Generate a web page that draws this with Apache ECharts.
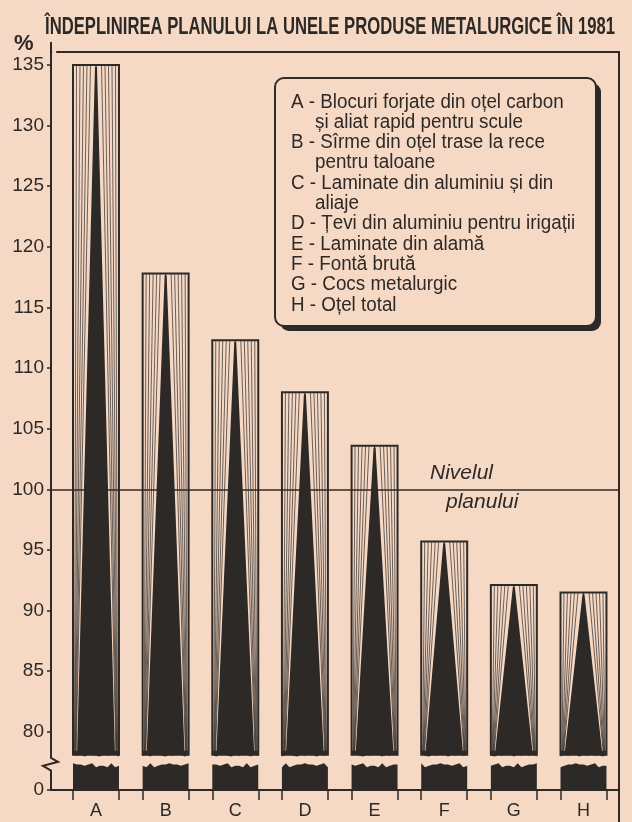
<!DOCTYPE html>
<html>
<head>
<meta charset="utf-8">
<script src="https://cdn.jsdelivr.net/npm/echarts@6/dist/echarts.min.js"></script>
<style>
html, body { margin: 0; padding: 0; background: #f6d9c5; }
#chart { width: 632px; height: 822px; }
</style>
</head>
<body>
<div id="chart"></div>
<script>
// data
var categories = ['A', 'B', 'C', 'D', 'E', 'F', 'G', 'H'];
var values = [135, 117.8, 112.3, 108.0, 103.6, 95.7, 92.1, 91.5];
var yTicks = [80, 85, 90, 95, 100, 105, 110, 115, 120, 125, 130, 135];
var planLevel = 100;
var legendItems = [
    ['A', 'Blocuri forjate din oțel carbon', 'și aliat rapid pentru scule'],
    ['B', 'Sîrme din oțel trase la rece', 'pentru taloane'],
    ['C', 'Laminate din aluminiu și din', 'aliaje'],
    ['D', 'Țevi din aluminiu pentru irigații'],
    ['E', 'Laminate din alamă'],
    ['F', 'Fontă brută'],
    ['G', 'Cocs metalurgic'],
    ['H', 'Oțel total']
];
var titleText = 'ÎNDEPLINIREA PLANULUI LA UNELE PRODUSE METALURGICE ÎN 1981';

// broken scale: the "0" sits just below the break
var zeroAt = 75.2, barBase = 78.1, stubTop = 77.3;
var yMax = 136.07, xMin = -0.646, xMax = 7.51, halfBar = 0.33;

var ink = '#2d2926';
var paper = '#f6d9c5';
var font = '"Liberation Sans", "Noto Sans", sans-serif';
var jag = [0, 2, 1, 3, 1, 0, 2, 3, 1, 2, 0, 1, 3, 1, 2];

// squeeze the title into the width it takes in the print
var titleFont = 'bold 23px ' + font;
var ctx = document.createElement('canvas').getContext('2d');
ctx.font = titleFont;
var titleScale = 570 / ctx.measureText(titleText).width;

var chart = echarts.init(document.getElementById('chart'));

var edgeTicks = [];
categories.forEach(function (c, i) { edgeTicks.push(i - halfBar, i + halfBar); });

function renderBar(params, api) {
    var i = api.value(0);
    var p = api.coord([i, api.value(1)]);
    var half = api.size([halfBar, 0])[0];
    var cx = p[0], top = p[1];
    var left = cx - half, right = cx + half;
    var base = api.coord([i, barBase])[1];
    var stub = api.coord([i, stubTop])[1];
    var zero = api.coord([i, zeroAt])[1];
    var kids = [];
    kids.push({ type: 'rect', shape: { x: left, y: top, width: right - left, height: base - top },
        style: { fill: paper } });
    var n = 5;
    for (var k = 1; k <= n; k++) {
        var f = k / (n + 1);
        kids.push({ type: 'line', shape: { x1: left + f * (half - 2), y1: top, x2: left + 1 + f * 2.5, y2: base },
            style: { stroke: ink, lineWidth: 0.7 } });
        kids.push({ type: 'line', shape: { x1: right - f * (half - 2), y1: top, x2: right - 1 - f * 2.5, y2: base },
            style: { stroke: ink, lineWidth: 0.7 } });
    }
    kids.push({ type: 'polygon', shape: { points: [[cx - 1, top + 2], [cx + 1, top + 2], [right - 4, base], [left + 4, base]] },
        style: { fill: ink } });
    kids.push({ type: 'line', shape: { x1: cx, y1: top, x2: cx, y2: top + 30 },
        style: { stroke: ink, lineWidth: 1.2 } });
    // wavy lower edge of the upper part
    var steps = 12;
    var pts = [[left, base - 4]];
    for (var s = 0; s <= steps; s++) {
        pts.push([left + (right - left) * s / steps, base + (jag[(s + i) % jag.length] - 1) * 0.8]);
    }
    pts.push([right, base - 4]);
    kids.push({ type: 'polygon', shape: { points: pts }, style: { fill: ink } });
    kids.push({ type: 'rect', shape: { x: left, y: top, width: right - left, height: base - top },
        style: { fill: null, stroke: ink, lineWidth: 2 } });
    // stub below the break
    var sp = [[left, zero]];
    for (var s2 = 0; s2 <= steps; s2++) {
        sp.push([left + (right - left) * s2 / steps, stub + (jag[(s2 * 2 + i) % jag.length] - 1) * 1.3]);
    }
    sp.push([right, zero]);
    kids.push({ type: 'polygon', shape: { points: sp }, style: { fill: ink } });
    return { type: 'group', children: kids };
}

function renderFrame(params, api) {
    var a = api.coord([xMin, barBase]);
    var b = api.coord([xMin, stubTop]);
    var r = api.coord([xMax, zeroAt]);
    var t = api.coord([xMin, yMax]);
    var x = a[0];
    return { type: 'group', children: [
        { type: 'line', shape: { x1: x, y1: t[1] - 10, x2: x, y2: t[1] }, style: { stroke: ink, lineWidth: 2 } },
        { type: 'rect', shape: { x: x + 1.2, y: t[1] - 2, width: 4, height: 4 }, style: { fill: paper } },
        { type: 'rect', shape: { x: x - 3, y: a[1] - 1, width: 6, height: b[1] - a[1] + 8 }, style: { fill: paper } },
        { type: 'polyline', shape: { points: [[x, a[1] - 1], [x, a[1] + 3], [x + 7, a[1] + 7], [x - 8, a[1] + 11], [x, b[1] + 6], [x, b[1] + 8]] },
          style: { stroke: ink, lineWidth: 2, fill: null } },
        { type: 'line', shape: { x1: r[0], y1: r[1], x2: r[0], y2: r[1] + 40 }, style: { stroke: ink, lineWidth: 2 } }
    ] };
}

var legendChildren = [
    { type: 'rect', shape: { x: 5, y: 5, width: 321, height: 248, r: 9 }, style: { fill: ink } },
    { type: 'rect', shape: { x: 0, y: 0, width: 321, height: 248, r: 9 }, style: { fill: paper, stroke: ink, lineWidth: 2 } }
];
var ly = 24;
legendItems.forEach(function (item) {
    legendChildren.push({ type: 'text', x: 16, y: ly, scaleX: 0.94,
        style: { text: item[0] + ' - ' + item[1], font: '20px ' + font, fill: ink, verticalAlign: 'middle' } });
    ly += 20.3;
    for (var j = 2; j < item.length; j++) {
        legendChildren.push({ type: 'text', x: 40, y: ly, scaleX: 0.94,
            style: { text: item[j], font: '20px ' + font, fill: ink, verticalAlign: 'middle' } });
        ly += 20.3;
    }
});

var option = {
    backgroundColor: paper,
    animation: false,
    grid: { left: 51, right: 13, top: 52, bottom: 32 },
    xAxis: [{
        type: 'value', min: xMin, max: xMax,
        splitLine: { show: false },
        axisLine: { show: true, onZero: false, lineStyle: { color: ink, width: 2 } },
        axisTick: { show: true, customValues: edgeTicks, length: 10, lineStyle: { color: ink, width: 1.5 } },
        axisLabel: {
            customValues: categories.map(function (c, i) { return i; }),
            formatter: function (v) { return categories[Math.round(v)]; },
            color: ink, fontSize: 18, fontFamily: font, margin: 12
        }
    }, {
        type: 'value', min: xMin, max: xMax, position: 'top',
        splitLine: { show: false }, axisTick: { show: false }, axisLabel: { show: false },
        axisLine: { show: true, onZero: false, lineStyle: { color: ink, width: 2 } }
    }],
    yAxis: [{
        type: 'value', min: zeroAt, max: yMax,
        splitLine: { show: false },
        axisLine: { show: true, onZero: false, lineStyle: { color: ink, width: 2 } },
        axisTick: { show: true, customValues: [zeroAt].concat(yTicks), length: 4, lineStyle: { color: ink, width: 1.5 } },
        axisLabel: {
            customValues: [zeroAt].concat(yTicks),
            formatter: function (v) { return v === zeroAt ? '0' : String(v); },
            color: ink, fontSize: 19, fontFamily: font, margin: 7
        }
    }, {
        type: 'value', min: zeroAt, max: yMax, position: 'right',
        splitLine: { show: false }, axisTick: { show: false }, axisLabel: { show: false },
        axisLine: { show: true, onZero: false, lineStyle: { color: ink, width: 2 } }
    }],
    graphic: [
        { type: 'text', x: 45, y: 28, scaleX: titleScale,
          style: { text: titleText, font: titleFont, fill: ink, verticalAlign: 'middle' } },
        { type: 'text', left: 14, top: 33, style: { text: '%', font: 'bold 22px ' + font, fill: ink } },
        { type: 'group', left: 274, top: 77, children: legendChildren },
        { type: 'text', x: 430, y: 463, style: { text: 'Nivelul', font: 'italic 21px ' + font, fill: ink } },
        { type: 'text', x: 446, y: 492, style: { text: 'planului', font: 'italic 21px ' + font, fill: ink } }
    ],
    series: [{
        type: 'custom',
        renderItem: renderBar,
        data: values.map(function (v, i) { return [i, v]; }),
        encode: { x: 0, y: 1 },
        clip: false,
        markLine: {
            silent: true, symbol: 'none', label: { show: false },
            lineStyle: { color: ink, width: 1.6, type: 'solid' },
            data: [{ yAxis: planLevel }]
        },
        z: 2
    }, {
        type: 'custom',
        renderItem: renderFrame,
        data: [[xMin, barBase]],
        clip: false,
        z: 5
    }]
};
chart.setOption(option);
</script>
</body>
</html>
